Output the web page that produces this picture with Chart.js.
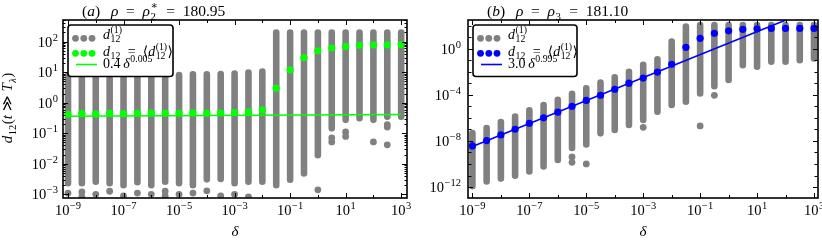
<!DOCTYPE html>
<html>
<head>
<meta charset="utf-8">
<script src="https://cdn.jsdelivr.net/npm/chart.js@4/dist/chart.umd.min.js"></script>
<style>
  body { margin: 0; background: #fff; }
  #wrap { position: relative; width: 822px; height: 242px; }
  canvas { position: absolute; top: 0; }
</style>
</head>
<body>
<div id="wrap">
  <canvas id="ca" width="411" height="242" style="left:0"></canvas>
  <canvas id="cb" width="411" height="242" style="left:411px"></canvas>
</div>
<script>
// delta values (half-decade steps)
const delta = [1e-9, 3.16e-9, 1e-8, 3.16e-8, 1e-7, 3.16e-7, 1e-6, 3.16e-6, 1e-5, 3.16e-5,
  1e-4, 3.16e-4, 1e-3, 3.16e-3, 1e-2, 3.16e-2, 0.1, 0.316, 1, 3.16, 10, 31.6, 100, 316, 1000];

// panel (a): rho = rho_2* = 180.95
const meanA = [0.42, 0.45, 0.43, 0.46, 0.44, 0.46, 0.47, 0.46, 0.46, 0.47, 0.46, 0.47, 0.48,
  0.50, 0.58, 3.0, 12, 30, 50, 62, 70, 76, 78, 79, 80];
const hiA = [7.8, 8.5, 8.5, 8.1, 8.1, 8.1, 8.1, 8.1, 8.1, 8.5, 8.5, 8.7, 9.1, 9.8, 10.5,
  200, 200, 200, 200, 200, 200, 200, 200, 200, 200];
const loA = [2.3e-3, 2.3e-3, 2.6e-3, 2.3e-3, 2.0e-3, 2.5e-3, 2.0e-3, 2.6e-3, 2.3e-3, 2.0e-3,
  3.1e-3, 3.2e-3, 2.3e-3, 2.6e-3, 2.6e-3, 2.0e-3, 3.0e-3, 4.8e-3, 1.9e-2, 0.145, 0.275,
  0.31, 0.275, 0.35, 0.35];
const outAX = [1e-9, 3.16e-9, 3.16e-9, 1e-8, 3.16e-8, 1e-7, 3.16e-7, 1e-6, 3.16e-6, 3.16e-6,
  1e-5, 3.16e-5, 1e-4, 3.16e-4, 1e-3, 3.16e-3, 1, 3.16, 3.16, 10, 10, 100, 316, 316, 316];
const outAY = [1.1e-3, 1.2e-3, 8.3e-4, 1.0e-3, 1.26e-3, 8.9e-4, 1.1e-3, 1.0e-3, 1.26e-3, 8.9e-4,
  1.0e-3, 1.1e-3, 1.3e-3, 8.9e-4, 1.0e-3, 8.3e-4, 1.4e-3, 0.071, 0.052, 0.11, 0.079, 0.052,
  0.19, 0.16, 0.042];
const fitAX = [1e-9, 1e3];
const fitAY = [0.362, 0.414];

// panel (b): rho = rho_3 = 181.10
const meanB = [3.7e-9, 1.07e-8, 3.3e-8, 1.02e-7, 3.4e-7, 1.0e-6, 3.1e-6, 1.0e-5, 3.2e-5, 9.1e-5,
  3.0e-4, 1.0e-3, 2.8e-3, 9.3e-3, 4.4e-2, 1.3, 7.8, 21, 35, 47, 52, 56, 56, 56, 56];
const hiB = [4.7e-8, 1.3e-7, 4.2e-7, 1.3e-6, 4.4e-6, 1.3e-5, 3.6e-5, 1.2e-4, 3.7e-4, 1.15e-3,
  3.3e-3, 1.0e-2, 3.9e-2, 0.12, 4.1, 81, 112, 112, 112, 112, 112, 112, 112, 112, 112];
const loB = [1.2e-12, 3.0e-12, 5.4e-12, 9.5e-12, 2.2e-11, 6.0e-11, 2.2e-10, 2.4e-9, 4.8e-9,
  4.5e-8, 8.9e-8, 2.4e-7, 6.5e-7, 3.4e-6, 1.3e-5, 2.5e-5, 1.3e-4, 5.4e-4, 1.9e-3, 0.037,
  0.027, 0.072, 0.072, 0.10, 0.14];
const outBX = [3.16e-6, 3.16e-6, 1e-5, 1e-3, 0.1, 0.316];
const outBY = [4.0e-10, 1.4e-10, 1.0e-10, 1.5e-7, 2.0e-7, 8.9e-5];
const fitBX = [1e-9, 1e3];
const fitBY = [3.3e-9, 2.9e3];

// tick decades (exponents)
const xTickExp = [-9, -8, -7, -6, -5, -4, -3, -2, -1, 0, 1, 2, 3];
const xLabelExp = [-9, -7, -5, -3, -1, 1, 3];
const yTickExpA = [-3, -2, -1, 0, 1, 2];
const yLabelExpA = [-3, -2, -1, 0, 1, 2];
const yTickExpB = [-12, -11, -10, -9, -8, -7, -6, -5, -4, -3, -2, -1, 0, 1, 2];
const yLabelExpB = [-12, -8, -4, 0];

const GRAY = '#808080';
const FAM = '"Liberation Serif", "DejaVu Serif", serif';
const fnt = (it, size) => (it ? 'italic ' : '') + size + 'px ' + FAM;
const EN = '\u2002', THIN = '\u2009';

// draw a run of math-ish text; returns width
function mathRun(ctx, x, y, segs, size, draw) {
  let cx = x;
  const small = size * 0.7;
  for (const s of segs) {
    if (s.sup !== undefined || s.sub !== undefined) {
      let w = 0;
      if (s.sup !== undefined) {
        ctx.font = fnt(s.supI, small);
        if (draw) ctx.fillText(s.sup, cx + 0.5, y - size * 0.42);
        w = Math.max(w, ctx.measureText(s.sup).width);
      }
      if (s.sub !== undefined) {
        ctx.font = fnt(s.subI, small);
        if (draw) ctx.fillText(s.sub, cx + 0.5, y + size * 0.24);
        w = Math.max(w, ctx.measureText(s.sub).width);
      }
      cx += w + 1;
    } else {
      const it = s.i !== undefined;
      const t = it ? s.i : s.r;
      ctx.font = fnt(it, size);
      if (draw) ctx.fillText(t, cx, y);
      cx += ctx.measureText(t).width;
    }
  }
  return cx - x;
}

function pow10Label(ctx, x, y, e, align) {
  const ex = e < 0 ? '\u2212' + (-e) : String(e);
  ctx.font = fnt(false, 14.5);
  const wb = ctx.measureText('10').width;
  ctx.font = fnt(false, 10.5);
  const we = ctx.measureText(ex).width;
  const tot = wb + we + 0.5;
  const sx = align === 'center' ? x - tot / 2 : x - tot;
  ctx.font = fnt(false, 14.5);
  ctx.fillText('10', sx, y);
  ctx.font = fnt(false, 10.5);
  ctx.fillText(ex, sx + wb + 0.5, y - 6);
}

function columns(xs, lo, hi) {
  const pts = [];
  xs.forEach((x, i) => { pts.push({ x, y: lo[i] }, { x, y: hi[i] }, { x, y: null }); });
  return pts;
}
const pairs = (xs, ys) => xs.map((x, i) => ({ x, y: ys[i] }));

function panelPlugin(cfg) {
  return {
    id: 'panel',
    afterDatasetsDraw(chart) {
      const { ctx, chartArea: a } = chart;
      const x = chart.scales.x, y = chart.scales.y;
      ctx.save();
      ctx.fillStyle = '#000';
      ctx.strokeStyle = '#000';
      ctx.textBaseline = 'alphabetic';

      // ticks
      ctx.lineWidth = 1;
      ctx.beginPath();
      cfg.xTicks.forEach(e => {
        const px = Math.round(x.getPixelForValue(Math.pow(10, e))) + 0.5;
        const len = cfg.xLabels.includes(e) ? 5 : 3;
        ctx.moveTo(px, a.bottom); ctx.lineTo(px, a.bottom - len);
        ctx.moveTo(px, a.top); ctx.lineTo(px, a.top + len);
      });
      cfg.yTicks.forEach(e => {
        const py = Math.round(y.getPixelForValue(Math.pow(10, e))) + 0.5;
        const len = cfg.yLabels.includes(e) ? 5 : 3.5;
        ctx.moveTo(a.left, py); ctx.lineTo(a.left + len, py);
        ctx.moveTo(a.right, py); ctx.lineTo(a.right - len, py);
        if (cfg.yMinor) {
          for (let m = 2; m <= 9; m++) {
            const v = m * Math.pow(10, e);
            if (v > y.max) continue;
            const q = Math.round(y.getPixelForValue(v)) + 0.5;
            ctx.moveTo(a.left, q); ctx.lineTo(a.left + 2.5, q);
            ctx.moveTo(a.right, q); ctx.lineTo(a.right - 2.5, q);
          }
        }
      });
      ctx.stroke();

      // frame
      ctx.lineWidth = 1.6;
      ctx.strokeRect(a.left, a.top, a.right - a.left, a.bottom - a.top);

      // tick labels
      cfg.xLabels.forEach(e => pow10Label(ctx, x.getPixelForValue(Math.pow(10, e)), a.bottom + 17, e, 'center'));
      cfg.yLabels.forEach(e => pow10Label(ctx, a.left - cfg.yLabelGap, y.getPixelForValue(Math.pow(10, e)) + 5, e, 'right'));

      // axis titles
      const cx = (a.left + a.right) / 2;
      ctx.font = fnt(true, 15);
      ctx.textAlign = 'center';
      ctx.fillText('\u03b4', cx, 236);
      ctx.textAlign = 'left';
      if (cfg.yTitle) {
        ctx.save();
        ctx.translate(12, 108);
        ctx.rotate(-Math.PI / 2);
        const w = mathRun(ctx, 0, 0, cfg.yTitle, 15, false);
        mathRun(ctx, -w / 2, 0, cfg.yTitle, 15, true);
        ctx.restore();
      }
      mathRun(ctx, a.left + 19, 16, cfg.title, 15.5, true);

      // legend
      const lx = a.left + 5, ly = a.top + 5, lw = cfg.legendW, lh = 51.5;
      ctx.beginPath();
      ctx.roundRect(lx, ly, lw, lh, 3);
      ctx.fillStyle = '#fff';
      ctx.fill();
      ctx.lineWidth = 1.6;
      ctx.strokeStyle = '#000';
      ctx.stroke();
      const dot = (px, py, c) => { ctx.beginPath(); ctx.arc(px, py, 3.4, 0, Math.PI * 2); ctx.fillStyle = c; ctx.fill(); };
      [7.5, 15.8, 24].forEach(o => { dot(lx + o, ly + 13.3, GRAY); dot(lx + o, ly + 28.3, cfg.color); });
      ctx.beginPath();
      ctx.moveTo(lx + 8, ly + 39.5); ctx.lineTo(lx + 29, ly + 39.5);
      ctx.strokeStyle = cfg.color; ctx.lineWidth = 1.6; ctx.stroke();
      ctx.fillStyle = '#000';
      const tx = lx + 35;
      mathRun(ctx, tx, ly + 14, [{ i: 'd' }, { sup: '(1)', sub: '12' }], 14, true);
      mathRun(ctx, tx, ly + 30.5, [{ i: 'd' }, { sub: '12' }, { r: EN + '=' + EN + '\u27e8' }, { i: 'd' },
        { sup: '(1)', sub: '12' }, { r: '\u27e9' }], 14, true);
      mathRun(ctx, tx, ly + 43, cfg.fitText, 14, true);
      ctx.restore();
    }
  };
}

function makeChart(id, d, cfg) {
  return new Chart(document.getElementById(id), {
    type: 'scatter',
    data: {
      datasets: [
        { data: pairs(delta, d.mean), backgroundColor: cfg.color, pointRadius: 3.6, borderWidth: 0, order: 1, clip: 0 },
        { data: pairs(d.fitX, d.fitY), showLine: true, borderColor: cfg.color, borderWidth: 1.6, pointRadius: 0, order: 2, clip: 0 },
        { data: pairs(d.outX, d.outY), backgroundColor: GRAY, pointRadius: 3.4, borderWidth: 0, order: 3, clip: 0 },
        { data: columns(delta, d.lo, d.hi), showLine: true, spanGaps: false, borderColor: GRAY, borderWidth: 6.6,
          borderCapStyle: 'round', pointRadius: 0, order: 4, clip: 0 }
      ]
    },
    options: {
      responsive: false,
      devicePixelRatio: 1,
      animation: false,
      events: [],
      layout: { padding: cfg.padding },
      scales: {
        x: { type: 'logarithmic', display: false, min: Math.pow(10, cfg.xr[0]), max: Math.pow(10, cfg.xr[1]) },
        y: { type: 'logarithmic', display: false, min: Math.pow(10, cfg.yr[0]), max: Math.pow(10, cfg.yr[1]) }
      },
      plugins: { legend: { display: false }, tooltip: { enabled: false } }
    },
    plugins: [panelPlugin(cfg)]
  });
}

makeChart('ca',
  { mean: meanA, lo: loA, hi: hiA, outX: outAX, outY: outAY, fitX: fitAX, fitY: fitAY },
  {
    color: '#00ff00',
    padding: { left: 63, right: 1, top: 20, bottom: 44 },
    xr: [-9.18, 3.21], yr: [-3.12, 2.71],
    xTicks: xTickExp, xLabels: xLabelExp, yTicks: yTickExpA, yLabels: yLabelExpA, yMinor: true,
    yLabelGap: 5, legendW: 105,
    title: [{ r: '(' }, { i: 'a' }, { r: ')' + EN + THIN }, { i: '\u03c1' }, { r: EN + '=' + EN }, { i: '\u03c1' },
      { sup: '\u2217', sub: '2' }, { r: EN + '=' + EN + '180.95' }],
    yTitle: [{ i: 'd' }, { sub: '12' }, { r: '(' }, { i: 't' }, { r: ' \u226b ' }, { i: 'T' }, { sub: '\u03bb', subI: true }, { r: ')' }],
    fitText: [{ r: '0.4' + THIN }, { i: '\u03b4' }, { sup: '0.005' }]
  });

makeChart('cb',
  { mean: meanB, lo: loB, hi: hiB, outX: outBX, outY: outBY, fitX: fitBX, fitY: fitBY },
  {
    color: '#0000ff',
    padding: { left: 57, right: 4, top: 20, bottom: 44 },
    xr: [-9.14, 3.14], yr: [-12.95, 2.48],
    xTicks: xTickExp, xLabels: xLabelExp, yTicks: yTickExpB, yLabels: yLabelExpB, yMinor: false,
    yLabelGap: 7, legendW: 104,
    title: [{ r: '(' }, { i: 'b' }, { r: ')' + EN + THIN }, { i: '\u03c1' }, { r: EN + '=' + EN }, { i: '\u03c1' },
      { sub: '3' }, { r: EN + '=' + EN + '181.10' }],
    yTitle: null,
    fitText: [{ r: '3.0' + THIN }, { i: '\u03b4' }, { sup: '0.995' }]
  });
</script>
</body>
</html>
